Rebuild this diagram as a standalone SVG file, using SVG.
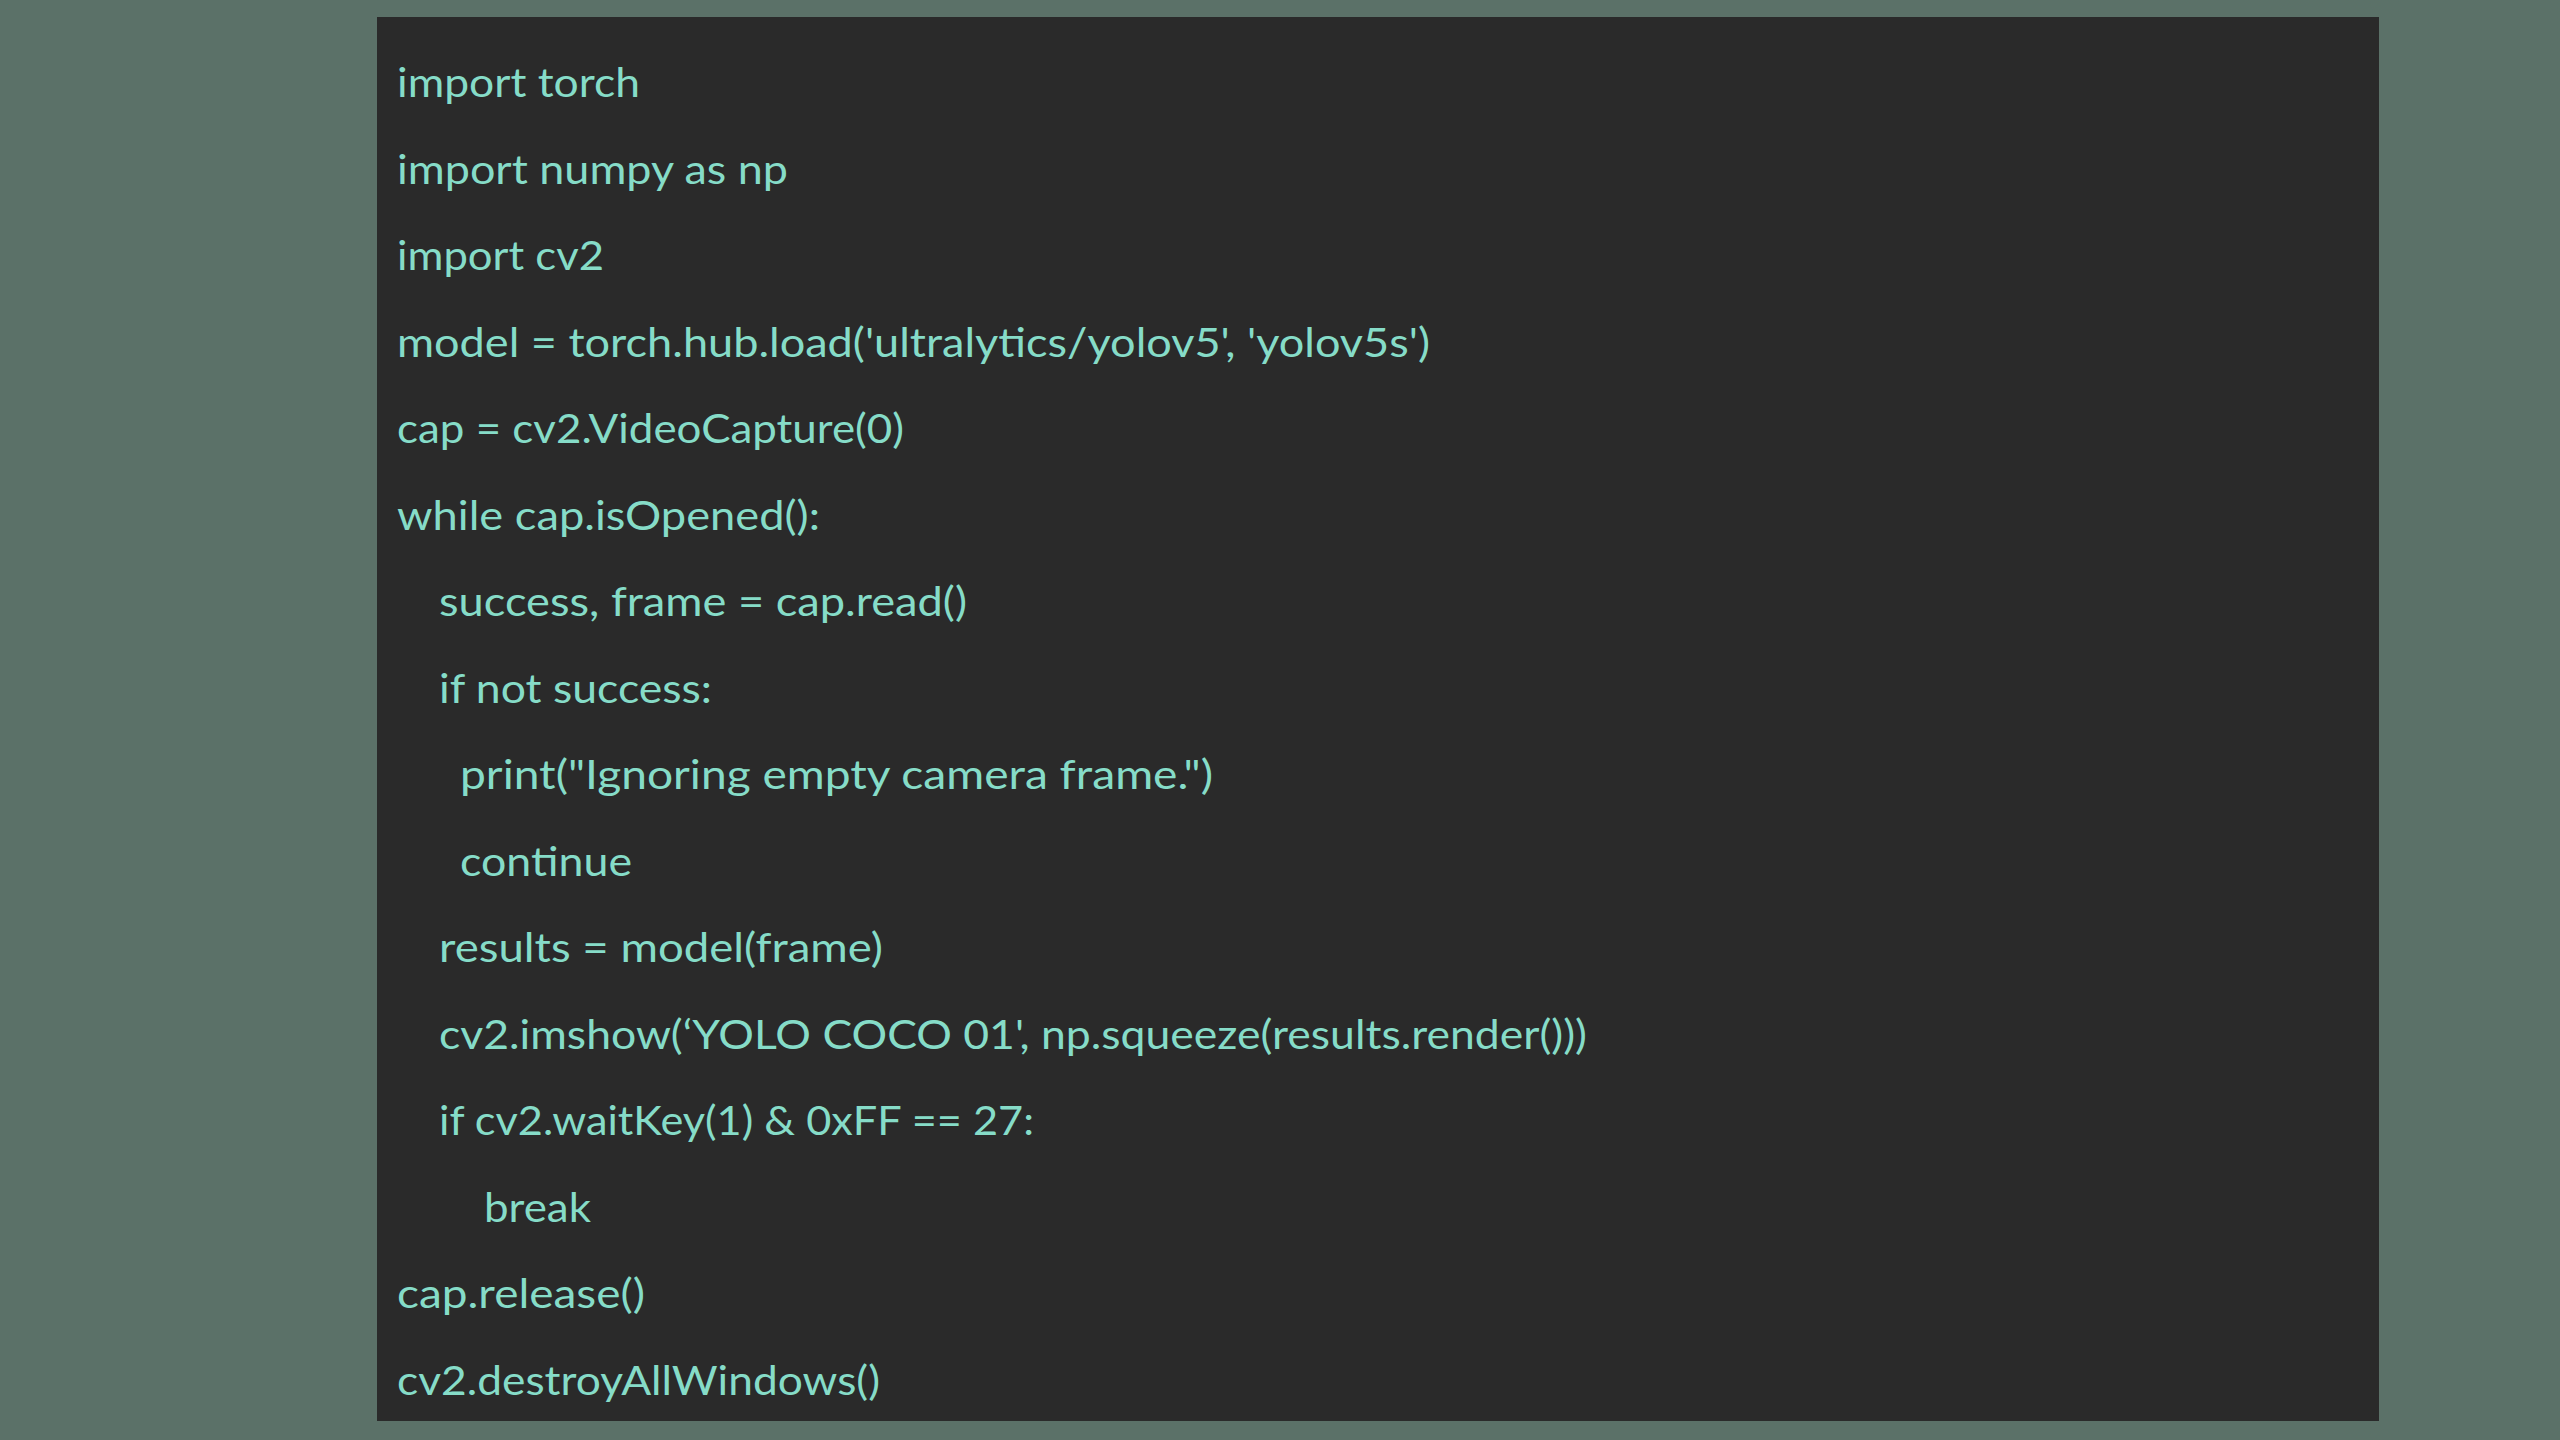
<svg xmlns="http://www.w3.org/2000/svg" width="2560" height="1440" viewBox="0 0 2560 1440">
<style>
.code{font-family:Lato,"Open Sans","Liberation Sans",sans-serif;font-size:41px;fill:#86dcc8}
</style>
<rect x="0" y="0" width="2560" height="1440" fill="#5b7168"/>
<g id="code-panel">
<rect x="377" y="17" width="2002" height="1404" fill="#2a2a2a"/>
<text class="code" x="397" y="97" textLength="243" lengthAdjust="spacingAndGlyphs">import torch</text>
<text class="code" x="397" y="183.5" textLength="391" lengthAdjust="spacingAndGlyphs">import numpy as np</text>
<text class="code" x="397" y="270" textLength="207" lengthAdjust="spacingAndGlyphs">import cv2</text>
<text class="code" x="397" y="356.5" textLength="1033" lengthAdjust="spacingAndGlyphs">model = torch.hub.load('ultralytics/yolov5', 'yolov5s')</text>
<text class="code" x="397" y="443" textLength="507" lengthAdjust="spacingAndGlyphs">cap = cv2.VideoCapture(0)</text>
<text class="code" x="397" y="529.5" textLength="423" lengthAdjust="spacingAndGlyphs">while cap.isOpened():</text>
<text class="code" x="439" y="616" textLength="528" lengthAdjust="spacingAndGlyphs">success, frame = cap.read()</text>
<text class="code" x="439" y="702.5" textLength="273" lengthAdjust="spacingAndGlyphs">if not success:</text>
<text class="code" x="460" y="789" textLength="753" lengthAdjust="spacingAndGlyphs">print("Ignoring empty camera frame.")</text>
<text class="code" x="460" y="875.5" textLength="172" lengthAdjust="spacingAndGlyphs">continue</text>
<text class="code" x="439" y="962" textLength="444" lengthAdjust="spacingAndGlyphs">results = model(frame)</text>
<text class="code" x="439" y="1048.5" textLength="1148" lengthAdjust="spacingAndGlyphs">cv2.imshow(‘YOLO COCO 01', np.squeeze(results.render()))</text>
<text class="code" x="439" y="1135" textLength="595" lengthAdjust="spacingAndGlyphs">if cv2.waitKey(1) &amp; 0xFF == 27:</text>
<text class="code" x="484" y="1221.5" textLength="107" lengthAdjust="spacingAndGlyphs">break</text>
<text class="code" x="397" y="1308" textLength="248" lengthAdjust="spacingAndGlyphs">cap.release()</text>
<text class="code" x="397" y="1394.5" textLength="483" lengthAdjust="spacingAndGlyphs">cv2.destroyAllWindows()</text>
</g>
</svg>
